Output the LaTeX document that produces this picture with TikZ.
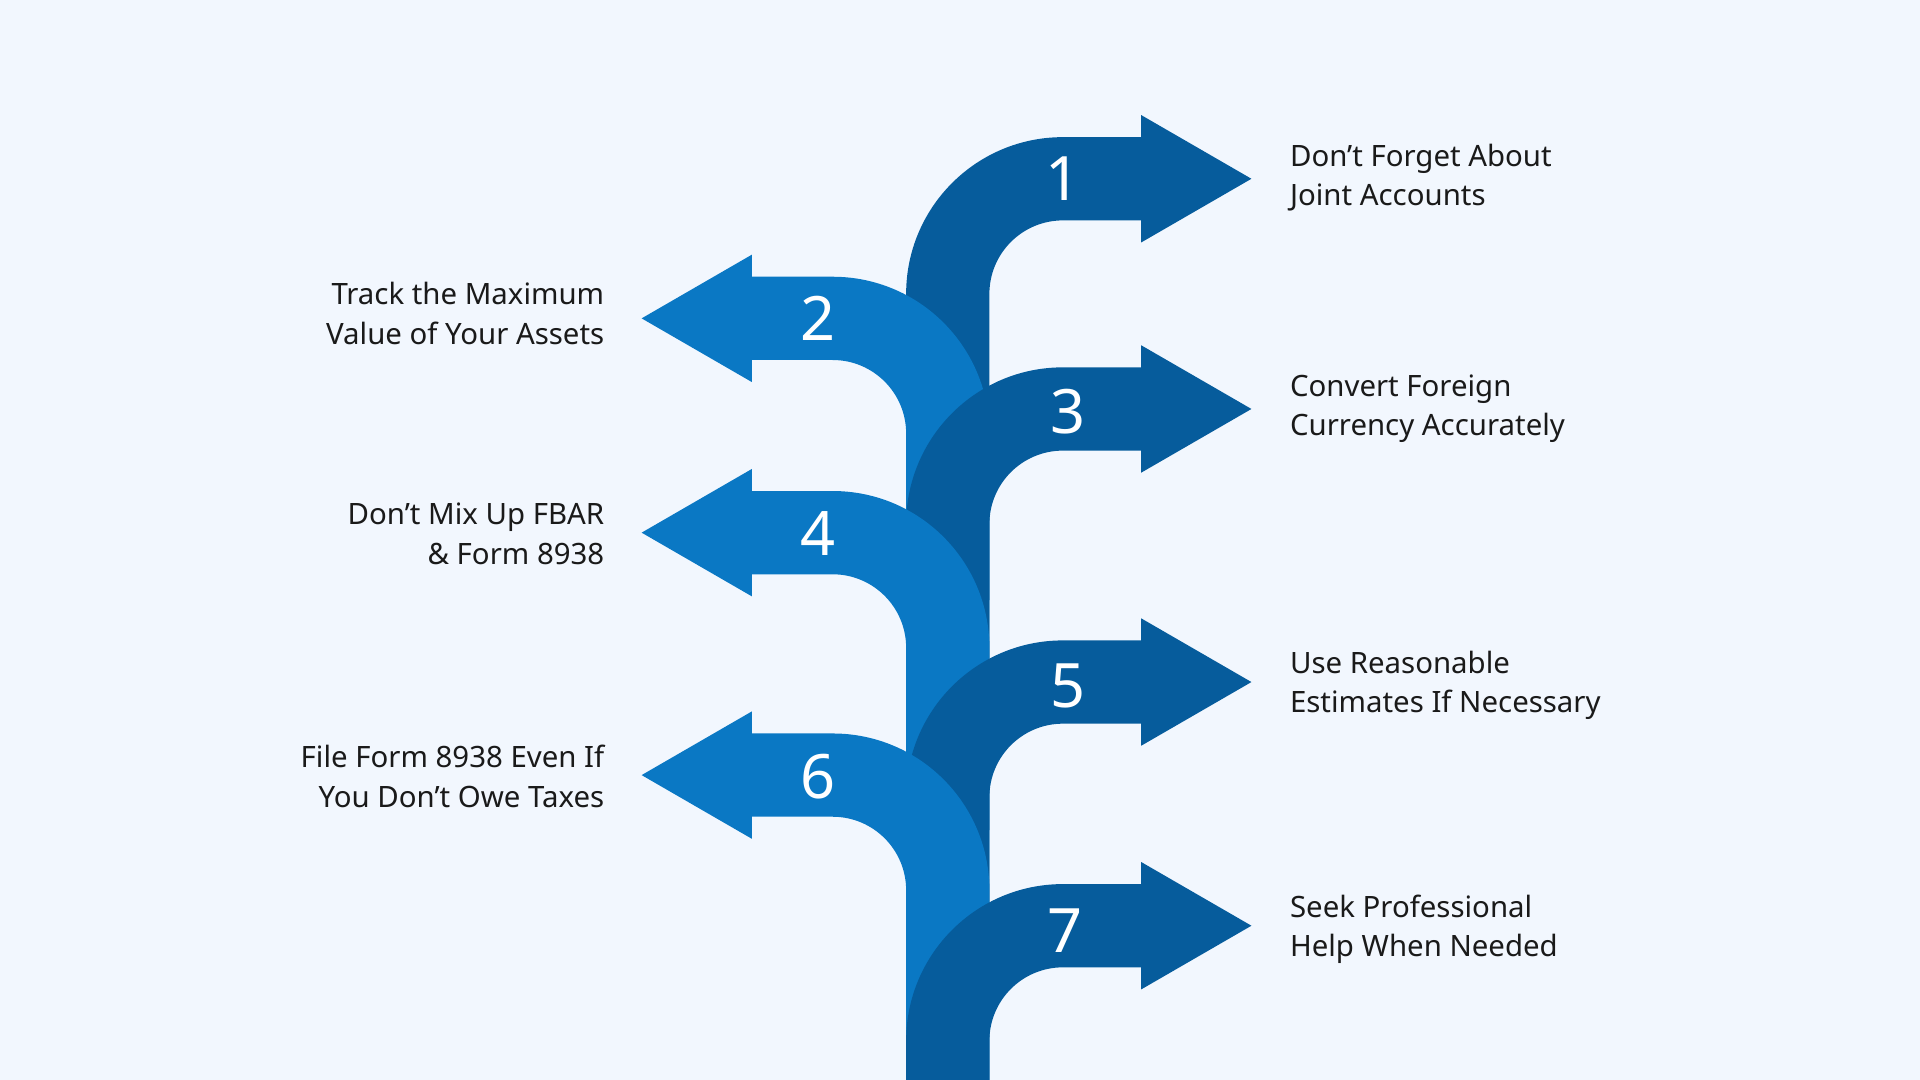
\documentclass[tikz,border=0pt]{standalone}
\usepackage{fontspec}
\setmainfont{Noto Sans}
\definecolor{bg}{HTML}{F2F7FE}
\definecolor{dark}{HTML}{065C9C}
\definecolor{light}{HTML}{0A78C4}
\definecolor{txt}{HTML}{1A1A1A}
\newcommand\rarr[2]{%
\fill[dark] (740,-#1-#2) -- (740,-#1) arc[start angle=180,end angle=90,radius=128] -- (932,-#1+128) -- (932,-#1+146) -- (1022,-#1+94) -- (932,-#1+42) -- (932,-#1+60) -- (868,-#1+60) arc[start angle=90,end angle=180,radius=60] -- (808,-#1-#2) -- cycle;}
\newcommand\larr[2]{%
\fill[light] (808,-#1-#2) -- (808,-#1) arc[start angle=0,end angle=90,radius=128] -- (614,-#1+128) -- (614,-#1+146) -- (524,-#1+94) -- (614,-#1+42) -- (614,-#1+60) -- (680,-#1+60) arc[start angle=90,end angle=0,radius=60] -- (740,-#1-#2) -- cycle;}
\begin{document}
\begin{tikzpicture}[x=1pt,y=1pt,
 num/.style={text=white,font=\fontsize{50}{50}\selectfont\bfseries},
 rl/.style={anchor=west,align=left,text=txt,font=\fontsize{24}{32}\selectfont\bfseries},
 ll/.style={anchor=east,align=right,text=txt,font=\fontsize{24}{32}\selectfont\bfseries}]
\fill[bg] (0,0) rectangle (1568,-882);
\useasboundingbox (0,0) rectangle (1568,-882);
\clip (0,0) rectangle (1568,-882);
\rarr{240}{250}
\larr{354}{250}
\rarr{428}{250}
\larr{529}{250}
\rarr{651}{250}
\larr{727}{250}
\rarr{850}{60}
\node[num] (n1) at (868,-146) {1};
\node[num] (n2) at (668,-260) {2};
\node[num] (n3) at (872,-336) {3};
\node[num] (n4) at (668,-436) {4};
\node[num] (n5) at (872,-560) {5};
\node[num] (n6) at (668,-634) {6};
\node[num] (n7) at (870,-760) {7};
\node[rl] (t1) at (1050,-145) {Don’t Forget About\\Joint Accounts};
\node[ll] (t2) at (497,-256) {Track the Maximum\\Value of Your Assets};
\node[rl] (t3) at (1050,-334) {Convert Foreign\\Currency Accurately};
\node[ll] (t4) at (497,-436) {Don’t Mix Up FBAR\\\& Form 8938};
\node[rl] (t5) at (1050,-560) {Use Reasonable\\Estimates If Necessary};
\node[ll] (t6) at (497,-634) {File Form 8938 Even If\\You Don’t Owe Taxes};
\node[rl] (t7) at (1050,-759) {Seek Professional\\Help When Needed};
\end{tikzpicture}
\end{document}
